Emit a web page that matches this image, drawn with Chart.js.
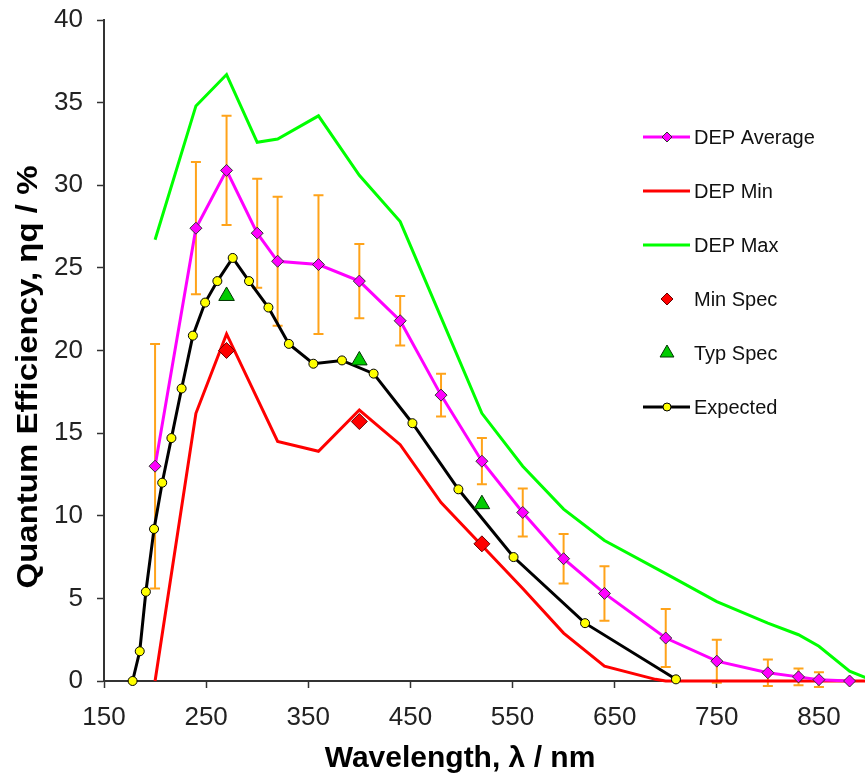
<!DOCTYPE html>
<html>
<head>
<meta charset="utf-8">
<script src="https://cdn.jsdelivr.net/npm/chart.js@4.4.1/dist/chart.umd.min.js"></script>
<style>
  html, body { margin: 0; padding: 0; background: #fff; overflow: hidden; }
  #wrap { width: 880px; height: 776px; }
</style>
</head>
<body>
<div id="wrap"><canvas id="qe" width="880" height="776"></canvas></div>
<script>
// wavelength (nm) / QE (%)
const avgWl  = [200, 240, 270, 300, 320, 360, 400, 440, 480, 520, 560, 600, 640, 700, 750, 800, 830, 850, 880];
const avgVal = [13.0, 27.4, 30.9, 27.1, 25.4, 25.2, 24.2, 21.8, 17.3, 13.3, 10.2, 7.4, 5.3, 2.6, 1.2, 0.5, 0.25, 0.08, 0.0];
const avgErr = [7.4, 4.0, 3.3, 3.3, 3.9, 4.2, 2.25, 1.5, 1.3, 1.4, 1.45, 1.5, 1.65, 1.75, 1.3, 0.8, 0.5, 0.45, 0];

const minWl  = [200, 240, 270, 320, 360, 400, 440, 480, 520, 560, 600, 640, 690, 700, 900];
const minVal = [0, 16.2, 21.0, 14.5, 13.9, 16.4, 14.3, 10.8, 8.2, 5.6, 2.9, 0.9, 0.1, 0, 0];

const maxWl  = [200, 240, 270, 300, 320, 360, 400, 440, 480, 520, 560, 600, 640, 700, 750, 800, 830, 850, 880, 900];
const maxVal = [26.7, 34.8, 36.7, 32.6, 32.8, 34.2, 30.6, 27.8, 22.0, 16.2, 13.0, 10.4, 8.5, 6.5, 4.8, 3.5, 2.8, 2.1, 0.6, 0.1];

const expWl  = [178, 185, 191, 199, 207, 216, 226, 237, 249, 261, 276, 292, 311, 331, 355, 383, 414, 452, 497, 551, 621, 710];
const expVal = [0, 1.8, 5.4, 9.2, 12.0, 14.7, 17.7, 20.9, 22.9, 24.2, 25.6, 24.2, 22.6, 20.4, 19.2, 19.4, 18.6, 15.6, 11.6, 7.5, 3.5, 0.1];

const minSpecWl  = [270, 400, 520];
const minSpecVal = [20.0, 15.7, 8.3];
const typSpecWl  = [270, 400, 520];
const typSpecVal = [23.3, 19.4, 10.7];

const xTicks = [150, 250, 350, 450, 550, 650, 750, 850];
const yTicks = [0, 5, 10, 15, 20, 25, 30, 35, 40];

const FONT = "'Liberation Sans', Arial, sans-serif";

function pts(xs, ys) {
  return xs.map((x, i) => ({ x: x, y: ys[i] }));
}

// orange error bars on DEP Average, drawn under the lines
const errorBars = {
  id: 'errorBars',
  beforeDatasetsDraw(chart) {
    const ctx = chart.ctx, xs = chart.scales.x, ys = chart.scales.y;
    ctx.save();
    ctx.strokeStyle = '#FFA31A';
    ctx.lineWidth = 2;
    avgWl.forEach((wl, i) => {
      if (!avgErr[i]) return;
      const x = xs.getPixelForValue(wl);
      const top = ys.getPixelForValue(avgVal[i] + avgErr[i]);
      const bot = ys.getPixelForValue(avgVal[i] - avgErr[i]);
      ctx.beginPath();
      ctx.moveTo(x, top); ctx.lineTo(x, bot);
      ctx.moveTo(x - 5, top); ctx.lineTo(x + 5, top);
      ctx.moveTo(x - 5, bot); ctx.lineTo(x + 5, bot);
      ctx.stroke();
    });
    ctx.restore();
  }
};

// legend at the right + axis titles
const decor = {
  id: 'decor',
  afterDraw(chart) {
    const ctx = chart.ctx;
    ctx.save();
    const rows = [137, 191, 245, 299, 353, 407];
    chart.data.datasets.forEach((ds, r) => {
      const y = rows[r];
      if (ds.showLine !== false) {
        ctx.strokeStyle = ds.borderColor;
        ctx.lineWidth = ds.borderWidth;
        ctx.beginPath();
        ctx.moveTo(643, y); ctx.lineTo(690, y);
        ctx.stroke();
      }
      if (ds.pointRadius > 0) {
        ctx.fillStyle = ds.pointBackgroundColor;
        ctx.strokeStyle = ds.pointBorderColor;
        ctx.lineWidth = 1;
        Chart.helpers.drawPoint(ctx, {
          pointStyle: ds.pointStyle,
          radius: ds.legendRadius,
          rotation: 0,
          borderWidth: 1
        }, 667, y);
      }
      ctx.fillStyle = '#111';
      ctx.font = '20px ' + FONT;
      ctx.textAlign = 'left';
      ctx.textBaseline = 'middle';
      ctx.fillText(ds.label, 694, y + 1);
    });

    ctx.fillStyle = '#000';
    ctx.font = 'bold 30px ' + FONT;
    ctx.textAlign = 'center';
    ctx.textBaseline = 'alphabetic';
    ctx.fillText('Wavelength, \u03bb / nm', 460, 767);

    ctx.translate(37, 377);
    ctx.rotate(-Math.PI / 2);
    ctx.scale(1.1, 1);
    ctx.fillText('Quantum Efficiency, \u03b7q / %', 0, 0);
    ctx.restore();
  }
};

new Chart(document.getElementById('qe'), {
  type: 'scatter',
  data: {
    datasets: [
      {
        label: 'DEP Average', data: pts(avgWl, avgVal), showLine: true,
        borderColor: '#FF00FF', borderWidth: 3,
        pointStyle: 'rectRot', pointRadius: 6, legendRadius: 5,
        pointBackgroundColor: '#FF00FF', pointBorderColor: '#333', pointBorderWidth: 1,
        order: 3
      },
      {
        label: 'DEP Min', data: pts(minWl, minVal), showLine: true,
        borderColor: '#FF0000', borderWidth: 3, pointRadius: 0,
        order: 5
      },
      {
        label: 'DEP Max', data: pts(maxWl, maxVal), showLine: true,
        borderColor: '#00FF00', borderWidth: 3, pointRadius: 0,
        order: 4
      },
      {
        label: 'Min Spec', data: pts(minSpecWl, minSpecVal), showLine: false,
        pointStyle: 'rectRot', pointRadius: 8, legendRadius: 6,
        pointBackgroundColor: '#FF0000', pointBorderColor: '#600', pointBorderWidth: 1,
        order: 1
      },
      {
        label: 'Typ Spec', data: pts(typSpecWl, typSpecVal), showLine: false,
        pointStyle: 'triangle', pointRadius: 9, legendRadius: 8,
        pointBackgroundColor: '#00CC00', pointBorderColor: '#030', pointBorderWidth: 1,
        order: 0
      },
      {
        label: 'Expected', data: pts(expWl, expVal), showLine: true,
        borderColor: '#000', borderWidth: 3,
        pointStyle: 'circle', pointRadius: 4.5, legendRadius: 4,
        pointBackgroundColor: '#FFFF00', pointBorderColor: '#000', pointBorderWidth: 1,
        order: 2
      }
    ]
  },
  options: {
    responsive: false,
    animation: false,
    clip: false,
    datasets: { scatter: { clip: false } },
    layout: { padding: { left: 0, right: 2, top: 20, bottom: 0 } },
    plugins: { legend: { display: false }, tooltip: { enabled: false } },
    elements: { line: { tension: 0 } },
    scales: {
      x: {
        type: 'linear', min: 150, max: 900,
        afterBuildTicks: s => { s.ticks = xTicks.map(v => ({ value: v })); },
        afterFit: s => { s.height = 95; s.paddingLeft = 0; s.paddingRight = 0; s.paddingTop = 0; s.paddingBottom = 0; },
        border: { display: true, color: '#333', width: 2 },
        grid: { display: true, drawOnChartArea: false, tickLength: 7, tickColor: '#333', tickWidth: 1.5 },
        ticks: { color: '#222', font: { family: FONT, size: 26 }, padding: 14, maxRotation: 0 }
      },
      y: {
        type: 'linear', min: 0, max: 40,
        afterBuildTicks: s => { s.ticks = yTicks.map(v => ({ value: v })); },
        afterFit: s => { s.width = 104; s.paddingTop = 0; s.paddingBottom = 0; s.paddingLeft = 0; s.paddingRight = 0; },
        border: { display: true, color: '#333', width: 2 },
        grid: { display: true, drawOnChartArea: false, tickLength: 7, tickColor: '#333', tickWidth: 1.5 },
        ticks: { color: '#222', font: { family: FONT, size: 26 }, padding: 14 }
      }
    }
  },
  plugins: [errorBars, decor]
});
</script>
</body>
</html>
